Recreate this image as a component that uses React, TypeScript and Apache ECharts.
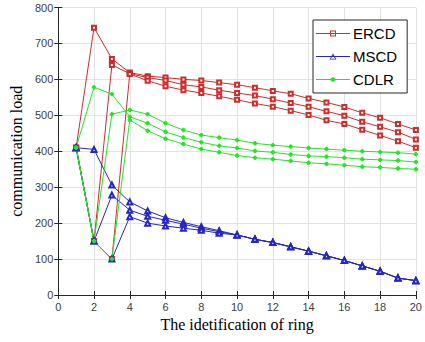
import React, { useEffect, useRef } from "react";
import * as echarts from "echarts";

const rings = [1, 2, 3, 4, 5, 6, 7, 8, 9, 10, 11, 12, 13, 14, 15, 16, 17, 18, 19, 20];
const legendNames = ["ERCD", "MSCD", "CDLR"];

const ercd1 = [410, 744, 657, 619, 609, 605, 600, 597, 591, 585, 577, 568, 560, 547, 536, 523, 507, 493, 476, 459];
const ercd2 = [410, 150, 640, 616, 605, 597, 585, 579, 570, 562, 555, 545, 534, 524, 511, 499, 482, 468, 453, 433];
const ercd3 = [410, 150, 100, 615, 596, 581, 570, 562, 553, 543, 533, 524, 513, 501, 486, 476, 460, 444, 428, 410];

const mscd1 = [410, 405, 306, 259, 234, 215, 202, 190, 179, 167, 155, 146, 134, 122, 109, 96, 81, 66, 47, 40];
const mscd2 = [410, 150, 278, 236, 219, 208, 197, 186, 176, 167, 155, 146, 134, 122, 109, 96, 81, 66, 47, 40];
const mscd3 = [410, 150, 100, 218, 200, 192, 186, 180, 172, 167, 155, 146, 134, 122, 109, 96, 81, 66, 47, 40];

const cdlr1 = [410, 578, 559, 496, 478, 454, 438, 425, 415, 409, 401, 397, 391, 387, 385, 382, 378, 376, 374, 370];
const cdlr2 = [410, 150, 503, 515, 503, 478, 459, 445, 438, 431, 422, 417, 413, 409, 406, 403, 400, 398, 396, 392];
const cdlr3 = [410, 150, 100, 487, 457, 435, 420, 406, 397, 388, 382, 378, 373, 368, 365, 361, 357, 355, 352, 350];

const RED = "#cf2b2b";
const BLUE = "#2424c8";
const GREEN = "#22e622";

const LINE = "M0 2.5H34V3.5H0Z";
const ICON_RECT = "path://" + LINE + "M14 0H20V6H14ZM15 1V5H19V1Z";
const ICON_TRI = "path://" + LINE + "M17 0L20.5 6H13.5ZM17 2L14.7 5.2H19.3Z";
const ICON_DOT = "path://" + LINE + "M17 0.5L19.2 1.7V4.3L17 5.5L14.8 4.3V1.7Z" + "M0 0H0.01V0.01H0ZM0 5.99H0.01V6H0Z";

export default function App() {
  const ref = useRef<HTMLDivElement>(null);
  useEffect(() => {
    if (!ref.current) return;
    const chart = echarts.init(ref.current, null, { renderer: "svg" });
    const mk = (name: string, vals: number[], color: string, symbol: string, size: number) => ({
      name,
      type: "line",
      data: rings.map((r, i) => [r, vals[i]]),
      symbol,
      symbolSize: size,
      lineStyle: { color, width: 1 },
      itemStyle: { color, borderColor: color, borderWidth: 1 },
      showAllSymbol: true,
    });
    const axisCommon = {
      axisLine: { show: true, lineStyle: { color: "#262626", width: 1 } },
      axisTick: { show: true, inside: true, length: 4, lineStyle: { color: "#262626" } },
    };
    chart.setOption({
      animation: false,
      backgroundColor: "#ffffff",
      grid: { left: 53, right: 5, top: 7.5, bottom: 47 },
      legend: {
        data: [
          { name: legendNames[0], icon: ICON_RECT },
          { name: legendNames[1], icon: ICON_TRI },
          { name: legendNames[2], icon: ICON_DOT },
        ],
        orient: "vertical",
        left: 313,
        top: 20,
        padding: [5, 10, 5, 3],
        itemGap: 6,
        itemWidth: 34,
        itemHeight: 6,
        borderColor: "#262626",
        borderWidth: 1,
        borderRadius: 0,
        backgroundColor: "#ffffff",
        itemStyle: { borderWidth: 0 },
        lineStyle: { width: 0 },
        textStyle: { fontFamily: "Liberation Sans", fontSize: 15, lineHeight: 17, color: "#000000", padding: [0, 0, 0, -2] },
      },
      xAxis: [
        {
          type: "value",
          min: 0,
          max: 20,
          interval: 2,
          name: "The idetification of ring",
          nameLocation: "middle",
          nameGap: 21,
          nameTextStyle: { fontFamily: "Liberation Serif", fontSize: 16, color: "#000000" },
          axisLabel: { fontFamily: "Liberation Sans", fontSize: 11, color: "#404040", margin: 6 },
          splitLine: { show: true, lineStyle: { color: "#e3e3e3", width: 1 } },
          ...axisCommon,
        },
        {
          type: "value",
          position: "top",
          min: 0,
          max: 20,
          interval: 2,
          axisLabel: { show: false },
          splitLine: { show: false },
          ...axisCommon,
        },
      ],
      yAxis: [
        {
          type: "value",
          min: 0,
          max: 800,
          interval: 100,
          name: "communication load",
          nameLocation: "middle",
          nameGap: 28,
          nameTextStyle: { fontFamily: "Liberation Serif", fontSize: 16, color: "#000000" },
          axisLabel: { fontFamily: "Liberation Sans", fontSize: 11, color: "#404040", margin: 5 },
          splitLine: { show: true, lineStyle: { color: "#e3e3e3", width: 1 } },
          ...axisCommon,
        },
        {
          type: "value",
          position: "right",
          min: 0,
          max: 800,
          interval: 100,
          axisLabel: { show: false },
          splitLine: { show: false },
          ...axisCommon,
        },
      ],
      series: [
        mk("ERCD", ercd1, RED, "emptyRect", 4),
        mk("ERCD", ercd2, RED, "emptyRect", 4),
        mk("ERCD", ercd3, RED, "emptyRect", 4),
        mk("MSCD", mscd1, BLUE, "emptyTriangle", 5),
        mk("MSCD", mscd2, BLUE, "emptyTriangle", 5),
        mk("MSCD", mscd3, BLUE, "emptyTriangle", 5),
        mk("CDLR", cdlr1, GREEN, "circle", 3.5),
        mk("CDLR", cdlr2, GREEN, "circle", 3.5),
        mk("CDLR", cdlr3, GREEN, "circle", 3.5),
      ],
    });
    return () => chart.dispose();
  }, []);
  return <div ref={ref} style={{ width: 425, height: 342, position: "absolute", left: 0, top: 0 }} />;
}
